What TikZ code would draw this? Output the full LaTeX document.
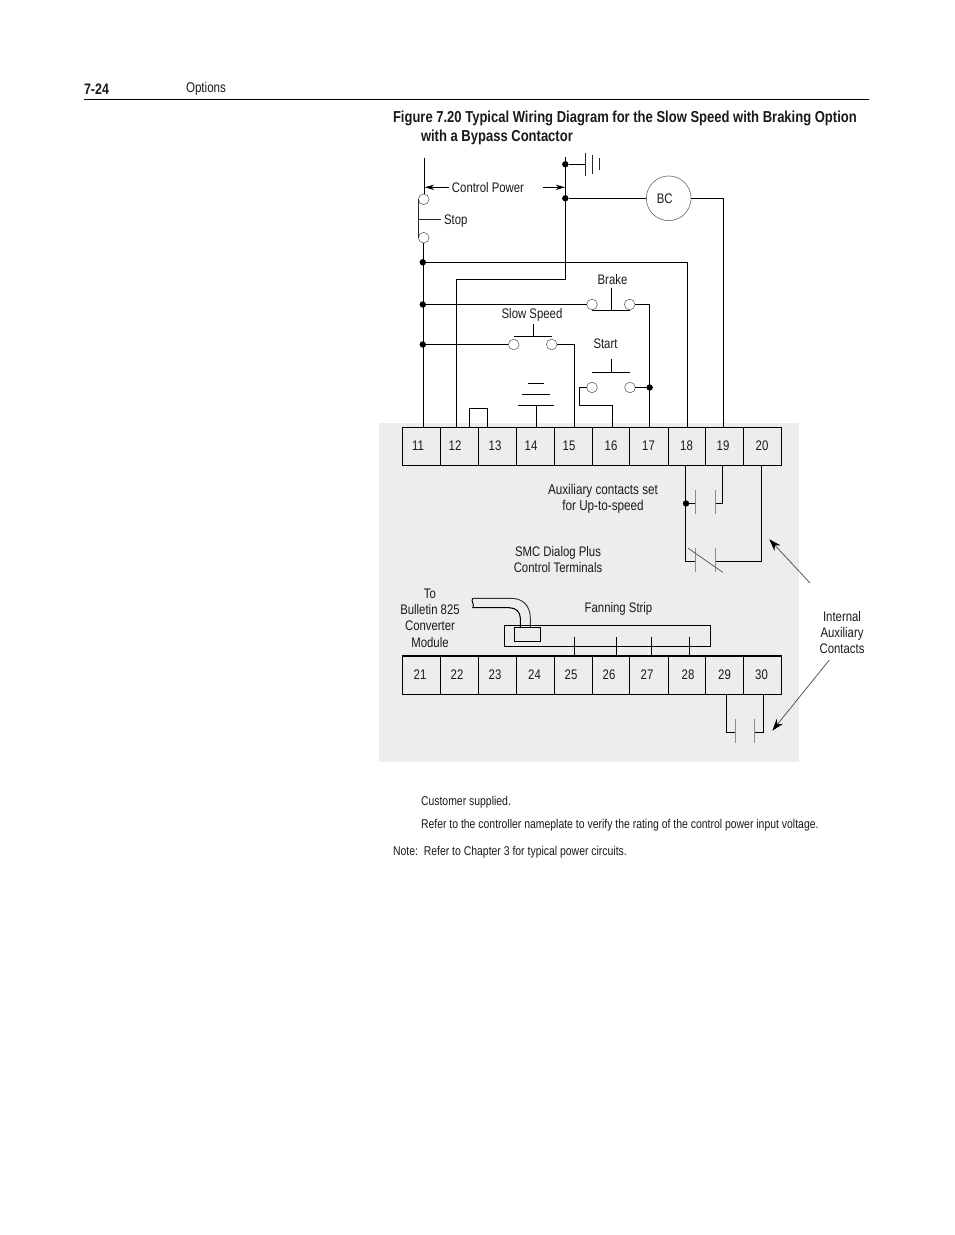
\documentclass[tikz,border=0pt]{standalone}
\usepackage{fontspec}
\setmainfont[FakeStretch=0.82]{Liberation Sans}
\usetikzlibrary{arrows.meta}
\definecolor{panel}{HTML}{EDEDED}
\definecolor{ink}{HTML}{1A1A1A}
\tikzset{
  every node/.style={text=ink,inner sep=0pt,outer sep=0pt},
  lab/.style={font=\fontsize{10.4}{12}\selectfont,align=center},
  foot/.style={font=\fontsize{9.55}{11}\selectfont,anchor=west},
  wire/.style={draw=black,line width=0.95pt},
  thin wire/.style={draw=black!85,line width=0.6pt},
  plate/.style={draw=black!45,line width=0.9pt},
  term/.style={draw=black,line width=0.95pt,rectangle,minimum height=28.6pt},
  openc/.style={circle,draw=black!60,line width=0.45pt,fill=none,minimum size=8pt},
  dot/.style={circle,fill=black,minimum size=4.8pt},
  pointer/.style={draw=black!75,line width=0.5pt,-{Stealth[length=9pt,width=6pt,black]}},
  cparrow/.style={draw=black,line width=0.6pt,-{Stealth[length=7pt,width=4pt,black]}}
}
\begin{document}
\begin{tikzpicture}[x=0.75pt,y=-0.75pt]
\useasboundingbox (0,0) rectangle (954,1235);
\fill[white] (0,0) rectangle (954,1235);
% header
\node[anchor=west,font=\fontsize{11.4}{13}\selectfont\bfseries] (pg) at (84,89) {7-24};
\node[anchor=west,font=\fontsize{10.6}{12}\selectfont] (opt) at (186,89) {Options};
\draw[black,line width=1.4pt] (84,99.5) -- (869,99.5);
\node[anchor=west,font=\fontsize{11.9}{14}\selectfont\bfseries] (t1) at (393,118) {Figure 7.20 Typical Wiring Diagram for the Slow Speed with Braking Option};
\node[anchor=west,font=\fontsize{11.9}{14}\selectfont\bfseries] (t2) at (421,137) {with a Bypass Contactor};
% panel
\fill[panel] (379,423) rectangle (799,762);
% terminals
\foreach \n/\a/\b/\l in {11/402.3/440.3/418,12/440.3/478.3/455,13/478.3/516.3/495,14/516.3/554.3/531,15/554.3/592.3/569,16/592.3/629.3/611,17/629.3/668.3/648.5,18/668.3/705.3/686.5,19/705.3/743.3/723,20/743.3/781.3/762}{
  \node[term,minimum width={(\b-\a)*0.75pt},anchor=north west] (t\n) at (\a,427.3) {};
  \node[lab] (n\n) at (\l,445.5) {\n};
}
\foreach \n/\a/\b/\l in {21/402.3/440.3/420,22/440.3/478.3/457,23/478.3/516.3/495,24/516.3/554.3/534.5,25/554.3/592.3/571,26/592.3/629.3/609,27/629.3/668.3/647,28/668.3/705.3/688,29/705.3/743.3/724.5,30/743.3/781.3/761.5}{
  \node[term,minimum width={(\b-\a)*0.75pt},anchor=north west] (t\n) at (\a,656) {};
  \node[lab] (n\n) at (\l,674.5) {\n};
}
% junctions and contacts
\node[dot] (jg) at (565.3,164.3) {};
\node[dot] (jc) at (565.3,198.3) {};
\node[dot] (j1) at (422.8,262.3) {};
\node[dot] (j2) at (422.8,304.5) {};
\node[dot] (j3) at (422.8,344.5) {};
\node[dot] (j4) at (649.7,387.5) {};
\node[dot] (j5) at (686,503.5) {};
\node[openc] (s1) at (423.7,199.3) {};
\node[openc] (s2) at (423.7,237.7) {};
\node[openc] (b1) at (592,304.5) {};
\node[openc] (b2) at (629.7,304.5) {};
\node[openc] (v1) at (513.7,344.5) {};
\node[openc] (v2) at (551.7,344.5) {};
\node[openc] (u1) at (592,387.5) {};
\node[openc] (u2) at (630,387.5) {};
\node[circle,draw=black!60,line width=0.45pt,minimum size=33.5pt,font=\fontsize{10.4}{12}\selectfont] (bc) at (668.7,198.3) {\hspace*{-6pt}BC};
% named ends
\coordinate (w11) at (423.3,427.3);
\coordinate (w12) at (456.7,427.3);
\coordinate (w12j) at (469.7,427.3);
\coordinate (w13j) at (487.3,427.3);
\coordinate (w14) at (536.3,427.3);
\coordinate (w15) at (574.3,427.3);
\coordinate (w16) at (612.3,427.3);
\coordinate (w17) at (649.3,427.3);
\coordinate (w18) at (687.3,427.3);
\coordinate (w19) at (723.3,427.3);
\coordinate (x18) at (685.7,465.3);
\coordinate (x19) at (722.3,465.3);
\coordinate (x20) at (761.3,465.3);
\coordinate (x29) at (726.7,694.3);
\coordinate (x30) at (763.3,694.3);
% left bus
\coordinate (topl) at (424.3,158);
\coordinate (topr) at (565.3,157);
\draw[wire] (topl) -- (s1.north -| topl);
\draw[wire] (s2.south -| w11) -- (w11);
\draw[thin wire] (418.7,199.3) -- (418.7,237.7);
\coordinate (stopend) at (441,219.3);
\draw[thin wire] (418.7,219.3) -- (stopend);
% right bus
\draw[wire] (topr) -- (565.3,279.3) -- (456.7,279.3) -- (w12);
\draw[wire] (jg) -- (585.7,164.3);
\draw[thin wire,line width=0.8pt] (585.7,153) -- (585.7,176);
\draw[thin wire] (592.7,155) -- (592.7,174);
\draw[thin wire] (599.3,158) -- (599.3,170);
\draw[wire] (jc) -- (bc.west);
\draw[wire] (bc.east) -| (w19);
\draw[wire] (j1) -| (w18);
% brake
\draw[wire] (j2) -- (b1.west);
\draw[wire] (b2.east) -| (w17);
\draw[wire] (592,310.3) -- (630,310.3);
\draw[wire] (611.3,288) -- (611.3,310.3);
% slow speed
\draw[wire] (j3) -- (v1.west);
\draw[wire] (v2.east) -| (w15);
\draw[wire] (514,336.3) -- (552,336.3);
\draw[wire] (533.6,324) -- (533.6,336.3);
% start
\draw[wire] (u2.east) -- (j4);
\draw[wire] (u1.west) -- (579.5,387.5) -- (579.5,405.7) -- (612.3,405.7) -- (w16);
\draw[wire] (592,372.3) -- (630,372.3);
\draw[wire] (611.3,359) -- (611.3,372.3);
% stack
\draw[wire] (527.7,383.3) -- (544,383.3);
\draw[wire] (522,394.3) -- (550,394.3);
\draw[wire] (518,405.3) -- (554,405.3);
\draw[wire] (536.3,405.3) -- (w14);
% jumper
\draw[wire] (w12j) -- (469.7,408.3) -- (487.3,408.3) -- (w13j);
% internal contacts
\draw[wire] (x18) -- (685.7,561.3) -- (695.3,561.3);
\draw[wire] (j5) -- (695.3,503.5);
\draw[wire] (715.4,503.5) -- (722.3,503.5) -- (x19);
\draw[wire] (715.4,561.3) -- (761.3,561.3) -- (x20);
\draw[plate] (695.3,490) -- (695.3,513.7);
\draw[plate] (715.4,490) -- (715.4,513.7);
\draw[plate] (695.3,548.3) -- (695.3,572.3);
\draw[plate] (715.4,548.3) -- (715.4,572.3);
\draw[black!70,line width=0.5pt] (688.3,548.3) -- (722.7,572.3);
\draw[wire] (x29) -- (726.7,732.3) -- (735.4,732.3);
\draw[wire] (754.3,732.3) -- (763.3,732.3) -- (x30);
\draw[plate] (735.4,719) -- (735.4,742.7);
\draw[plate] (754.3,719) -- (754.3,742.7);
% fanning strip
\node[draw=black,line width=0.95pt,minimum width=154.8pt,minimum height=15.5pt,anchor=north west] (strip) at (504.3,625.7) {};
\node[draw=black,line width=0.95pt,minimum width=19.8pt,minimum height=10.8pt,anchor=north west] (plug) at (514.3,627.3) {};
\foreach \x/\n in {574.3/25,616.3/26,651.3/27,689.3/28}{
  \draw[wire] (\x,637.3) -- (\x,656);
}
\draw[black,line width=0.7pt] (472.7,598.3) .. controls (470.5,601) and (475,604.5) .. (472.7,607.7);
\draw[black!80,line width=0.7pt] (472.7,598.3) -- (511,598.3) .. controls (523,598.3) and (530.3,606) .. (530.3,618) -- (530.3,627.3);
\draw[black,line width=0.8pt] (472.7,607.7) -- (509,607.7) .. controls (516,607.7) and (520.3,612) .. (520.3,618) -- (520.3,627.3);
% labels
\node[lab] (cp) at (488,188) {Control Power};
\draw[cparrow] (449,187.3) -- (424.8,187.3);
\draw[cparrow] (543.3,187.3) -- (565,187.3);
\node[lab,anchor=west] (stop) at (444,221) {Stop};
\node[lab] (brake) at (612.5,279.5) {Brake};
\node[lab] (slow) at (532,315) {Slow Speed};
\node[lab] (start) at (605.5,343.5) {Start};
\node[lab,font=\fontsize{10.7}{12}\selectfont] (aux) at (603,499) {Auxiliary contacts set\\for Up-to-speed};
\node[lab] (smc) at (558,559.5) {SMC Dialog Plus\\Control Terminals};
\node[lab,font=\fontsize{10.4}{12.2}\selectfont] (to) at (430,618) {To\\Bulletin 825\\Converter\\Module};
\node[lab] (fan) at (618.5,608.5) {Fanning Strip};
\node[lab,font=\fontsize{10.4}{12.2}\selectfont] (ia) at (842,632.5) {Internal\\Auxiliary\\Contacts};
\coordinate (a1) at (810,583);
\coordinate (a2) at (769.3,539.3);
\coordinate (a3) at (829.3,660);
\coordinate (a4) at (772.3,730.7);
\draw[pointer] (a1) -- (a2);
\draw[pointer] (a3) -- (a4);
% notes
\node[foot] (f1) at (421,802) {Customer supplied.};
\node[foot] (f2) at (421,825) {Refer to the controller nameplate to verify the rating of the control power input voltage.};
\node[foot] (f3) at (393,852) {Note:\ \ Refer to Chapter 3 for typical power circuits.};
\end{tikzpicture}
\end{document}
